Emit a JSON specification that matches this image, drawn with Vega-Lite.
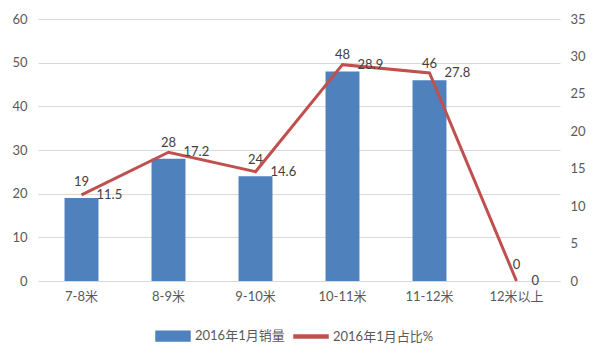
{
  "$schema": "https://vega.github.io/schema/vega-lite/v6.json",
  "width": 522,
  "height": 262,
  "autosize": {"type": "none"},
  "padding": {"left": 38, "top": 19, "right": 40, "bottom": 79},
  "background": "white",
  "config": {
    "view": {"stroke": null},
    "font": "Lato, Noto Sans CJK SC",
    "axis": {"labelColor": "#595959", "labelFontSize": 12, "labelFont": "Lato, Noto Sans CJK SC", "ticks": false, "title": null}
  },
  "data": {
    "values": [
      {"cat": "7-8米", "sales": 19, "pct": 11.5},
      {"cat": "8-9米", "sales": 28, "pct": 17.2},
      {"cat": "9-10米", "sales": 24, "pct": 14.6},
      {"cat": "10-11米", "sales": 48, "pct": 28.9},
      {"cat": "11-12米", "sales": 46, "pct": 27.8},
      {"cat": "12米以上", "sales": 0, "pct": 0}
    ]
  },
  "encoding": {
    "x": {
      "field": "cat", "type": "nominal", "sort": null,
      "scale": {"paddingInner": 0.61, "paddingOuter": 0.305},
      "axis": {"labelAngle": 0, "domainColor": "#D9D9D9", "domainWidth": 1, "labelPadding": 9, "labelFontSize": 13}
    }
  },
  "layer": [
    {
      "encoding": {
        "y": {
          "field": "sales", "type": "quantitative",
          "scale": {"domain": [0, 60], "nice": false},
          "axis": {"values": [0, 10, 20, 30, 40, 50, 60], "domain": false, "gridColor": "#D9D9D9", "labelPadding": 11, "labelFontSize": 13}
        }
      },
      "layer": [
        {
          "mark": {"type": "bar", "color": "#4F81BD"},
          "encoding": {
            "color": {
              "datum": "2016年1月销量",
              "scale": {"domain": ["2016年1月销量", "2016年1月占比%"], "range": ["#4F81BD", "#C0504D"]},
              "legend": {
                "title": null,
                "orient": "none",
                "direction": "horizontal",
                "legendX": 117,
                "legendY": 299,
                "symbolSize": 1156,
                "labelFontSize": 13,
                "labelColor": "#595959",
                "labelFont": "Lato, Noto Sans CJK SC",
                "labelOffset": 4,
                "columnPadding": 6,
                "encode": {
                  "symbols": {
                    "update": {
                      "shape": {"signal": "datum.value === '2016年1月销量' ? 'M-1,-0.28H1V0.28H-1Z' : 'M-1,-0.09H1V0.09H-1Z'"},
                      "fill": {"signal": "datum.value === '2016年1月销量' ? '#4F81BD' : '#C0504D'"},
                      "stroke": {"value": "transparent"},
                      "opacity": {"value": 1}
                    }
                  }
                }
              }
            }
          }
        },
        {
          "mark": {"type": "text", "baseline": "bottom", "dy": -9, "fontSize": 13, "color": "#404040"},
          "encoding": {"text": {"field": "sales", "type": "quantitative"}}
        }
      ]
    },
    {
      "encoding": {
        "y": {
          "field": "pct", "type": "quantitative",
          "scale": {"domain": [0, 35], "nice": false},
          "axis": {"orient": "right", "values": [0, 5, 10, 15, 20, 25, 30, 35], "domain": false, "grid": false, "labelPadding": 10, "labelFontSize": 13}
        }
      },
      "layer": [
        {
          "mark": {"type": "line", "strokeWidth": 3, "color": "#C0504D"},
          "encoding": {"color": {"datum": "2016年1月占比%"}}
        },
        {
          "mark": {"type": "text", "align": "left", "baseline": "middle", "dx": 15, "fontSize": 13, "color": "#404040"},
          "encoding": {"text": {"field": "pct", "type": "quantitative"}}
        }
      ]
    }
  ],
  "resolve": {"scale": {"y": "independent"}}
}
